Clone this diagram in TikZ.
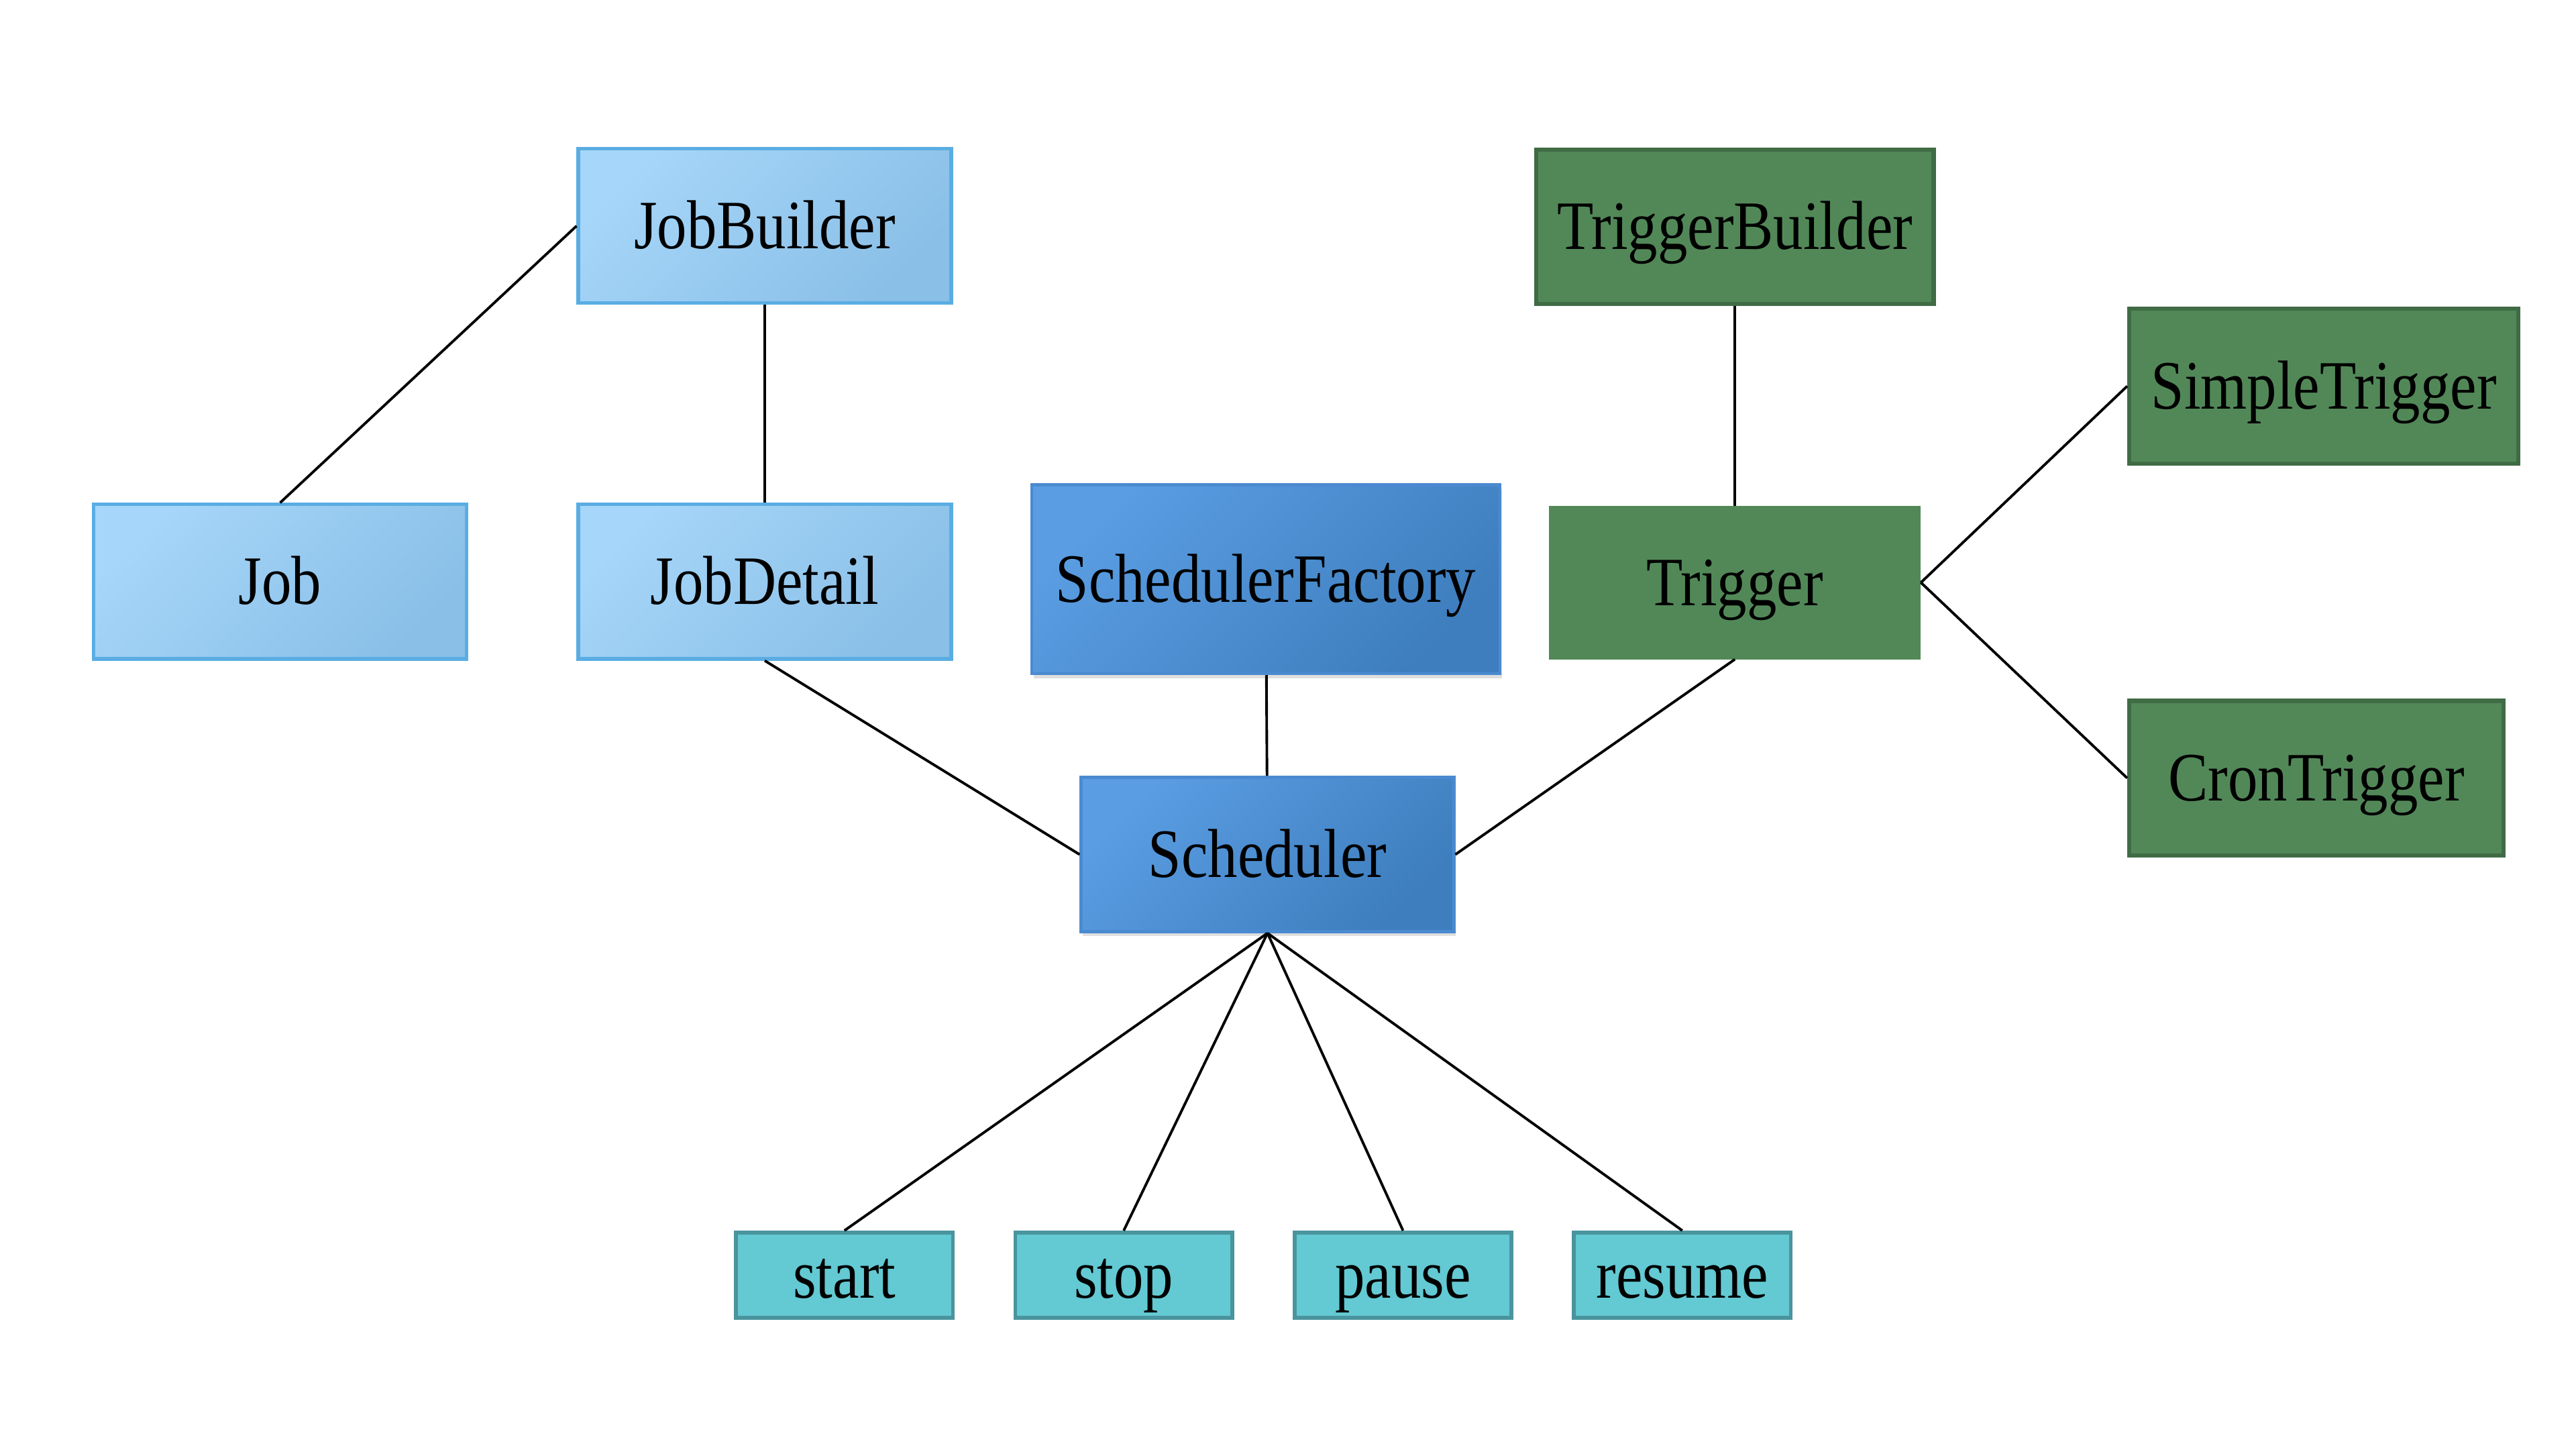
\documentclass[tikz,border=0pt]{standalone}
\usepackage{fontspec}
\setmainfont{Liberation Serif}[FakeStretch=0.86]
\usetikzlibrary{shadows}
\definecolor{joblight}{HTML}{A6D6F9}
\definecolor{jobdark}{HTML}{8ABFE7}
\definecolor{jobline}{HTML}{5AADE2}
\definecolor{schedlight}{HTML}{5A9DE2}
\definecolor{scheddark}{HTML}{3E7EBE}
\definecolor{schedline}{HTML}{4A8AD0}
\definecolor{trigfill}{HTML}{528858}
\definecolor{trigline}{HTML}{3F6B45}
\definecolor{opfill}{HTML}{63C9D3}
\definecolor{opline}{HTML}{4A949D}
\tikzset{
  box/.style={rectangle,inner sep=0pt,font=\fontsize{24}{28}\selectfont,
     text height=15.8pt,text depth=0pt},
  jobbox/.style={box,draw=jobline,line width=1.2pt,top color=joblight,
     bottom color=jobdark,shading angle=45,minimum width=4.54cm,minimum height=1.88cm},
  schedbox/.style={box,draw=schedline,line width=1pt,top color=schedlight,
     bottom color=scheddark,shading angle=45,
     drop shadow={opacity=0.25,shadow xshift=0.6pt,shadow yshift=-1.6pt}},
  trigbox/.style={box,draw=trigline,line width=1.4pt,fill=trigfill,minimum height=1.88cm},
  opbox/.style={box,draw=opline,line width=1.3pt,fill=opfill,
     minimum width=2.64cm,minimum height=1.04cm},
  link/.style={line width=0.9pt}
}
\begin{document}
\begin{tikzpicture}
\useasboundingbox (0,0) rectangle (31.36,-17.64);
% job side
\foreach \n/\x/\y/\t in {jobbuilder/9.31/2.75/JobBuilder,job/3.41/7.08/Job,jobdetail/9.31/7.08/JobDetail}
   \node[jobbox] (\n) at (\x,-\y) {\t};
% scheduler
\node[schedbox,minimum width=5.7cm,minimum height=2.3cm] (factory) at (15.41,-7.05) {SchedulerFactory};
\node[schedbox,minimum width=4.54cm,minimum height=1.88cm] (scheduler) at (15.43,-10.40) {Scheduler};
% trigger side
\foreach \n/\x/\y/\w/\t in {triggerbuilder/21.12/2.76/4.84/TriggerBuilder,
      simple/28.29/4.70/4.74/SimpleTrigger,cron/28.20/9.47/4.56/CronTrigger}
   \node[trigbox,minimum width=\w cm] (\n) at (\x,-\y) {\t};
\node[trigbox,draw=trigfill,minimum width=4.48cm,minimum height=1.82cm] (trigger) at (21.12,-7.09) {Trigger};
% operations
\foreach[count=\k] \t in {start,stop,pause,resume}
   \node[opbox] (op\k) at ({10.28+(\k-1)*3.4},-15.52) {\t};
% links
\draw[link] (jobbuilder.west) -- (job.north);
\draw[link] (jobbuilder) -- (jobdetail);
\draw[link] (jobdetail.south) -- (scheduler.west);
\draw[link] (factory) -- (scheduler);
\draw[link] (triggerbuilder) -- (trigger);
\draw[link] (trigger.south) -- (scheduler.east);
\draw[link] (trigger.east) -- (simple.west);
\draw[link] (trigger.east) -- (cron.west);
\foreach \k in {1,...,4}
   \draw[link] (scheduler.south) -- (op\k.north);
\end{tikzpicture}
\end{document}
